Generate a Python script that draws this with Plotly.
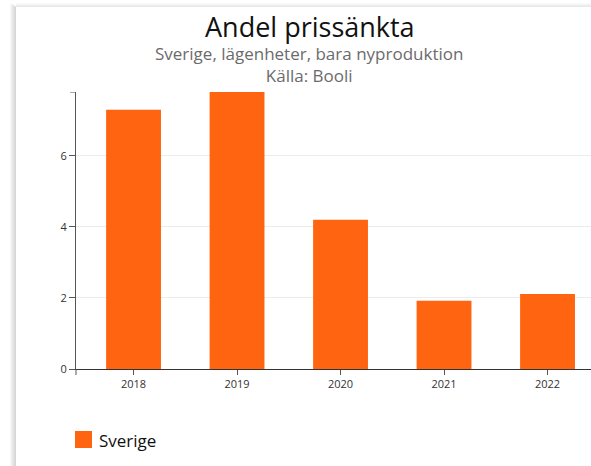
import plotly.graph_objects as go

years = ["2018", "2019", "2020", "2021", "2022"]
sverige = [7.3, 7.8, 4.2, 1.92, 2.11]
y_ticks = [0, 2, 4, 6]
title = "Andel prissänkta"
subtitle = "Sverige, lägenheter, bara nyproduktion"
source = "Källa: Booli"
series_name = "Sverige"

W, H = 591, 466
L, R, T, B = 76, 0, 92, 97
PW, PH = W - L - R, H - T - B

def px(x):
    return (x - L) / PW

def py(y):
    return (H - B - y) / PH

ORANGE = "#ff6410"
FONT = "Open Sans"

fig = go.Figure()
fig.add_trace(go.Bar(
    x=years, y=sverige, name=series_name,
    marker=dict(color=ORANGE, line=dict(width=0)),
    width=0.53, showlegend=False,
))

shapes = []
# card shadow (left and top)
shades = ["#f7f7f7", "#f0f0f0", "#e9e9e9", "#e2e2e2", "#dcdcdc", "#d6d6d6"]
for i, c in enumerate(shades):
    x0 = 10 + i
    shapes.append(dict(type="rect", xref="paper", yref="paper",
                       x0=px(x0), x1=px(x0 + 1), y0=py(H), y1=py(7 - (6 - i) * 0.6),
                       fillcolor=c, line=dict(width=0), layer="below"))
tshades = ["#fafafa", "#f4f4f4", "#eeeeee", "#e8e8e8"]
for i, c in enumerate(tshades):
    y0 = 3 + i
    shapes.append(dict(type="rect", xref="paper", yref="paper",
                       x0=px(16), x1=px(W + 5), y0=py(y0 + 1), y1=py(y0),
                       fillcolor=c, line=dict(width=0), layer="below"))
# outer ticks (d3-style)
shapes.append(dict(type="line", xref="paper", yref="y", x0=px(70), x1=0,
                   y0=max(sverige), y1=max(sverige), line=dict(color="#555", width=1)))
shapes.append(dict(type="line", xref="paper", yref="paper", x0=0, x1=0,
                   y0=0, y1=py(H - B + 6), line=dict(color="#555", width=1)))
# legend swatch
shapes.append(dict(type="rect", xref="paper", yref="paper",
                   x0=px(75), x1=px(92), y0=py(448), y1=py(431),
                   fillcolor=ORANGE, line=dict(width=0)))

annotations = [
    dict(text=title, x=px(310), y=py(7), xref="paper", yref="paper",
         showarrow=False, xanchor="center", yanchor="top", borderpad=0,
         font=dict(family=FONT, size=27, color="#111")),
    dict(text=subtitle + "<br>" + source, x=px(309), y=py(41), xref="paper", yref="paper",
         showarrow=False, xanchor="center", yanchor="top", borderpad=0,
         font=dict(family=FONT, size=17, color="#6b6b6b")),
    dict(text=series_name, x=px(97), y=py(440), xref="paper", yref="paper",
         showarrow=False, xanchor="left", yanchor="middle",
         font=dict(family=FONT, size=17, color="#111")),
]

fig.update_layout(
    width=W, height=H,
    margin=dict(l=L, r=R, t=T, b=B, pad=0),
    paper_bgcolor="white", plot_bgcolor="white",
    font=dict(family=FONT, size=11, color="#333"),
    shapes=shapes, annotations=annotations,
    bargap=0.47,
    xaxis=dict(
        type="category", range=[-0.556, 4.42],
        showline=True, linecolor="#333", linewidth=1,
        ticks="outside", ticklen=5, tickcolor="#555",
        showgrid=False, tickfont=dict(size=11, color="#333"),
        fixedrange=True,
    ),
    yaxis=dict(
        range=[0, max(sverige)], tickvals=y_ticks,
        showline=True, linecolor="#555", linewidth=1,
        ticks="outside", ticklen=6, tickcolor="#555",
        showgrid=True, gridcolor="#ececec", gridwidth=1,
        zeroline=False, tickfont=dict(size=11, color="#333"),
        fixedrange=True,
    ),
)

fig.write_html(
    "out.html",
    config={"displayModeBar": False},
    post_script="document.body.style.margin='0';document.body.style.overflow='hidden';",
)
